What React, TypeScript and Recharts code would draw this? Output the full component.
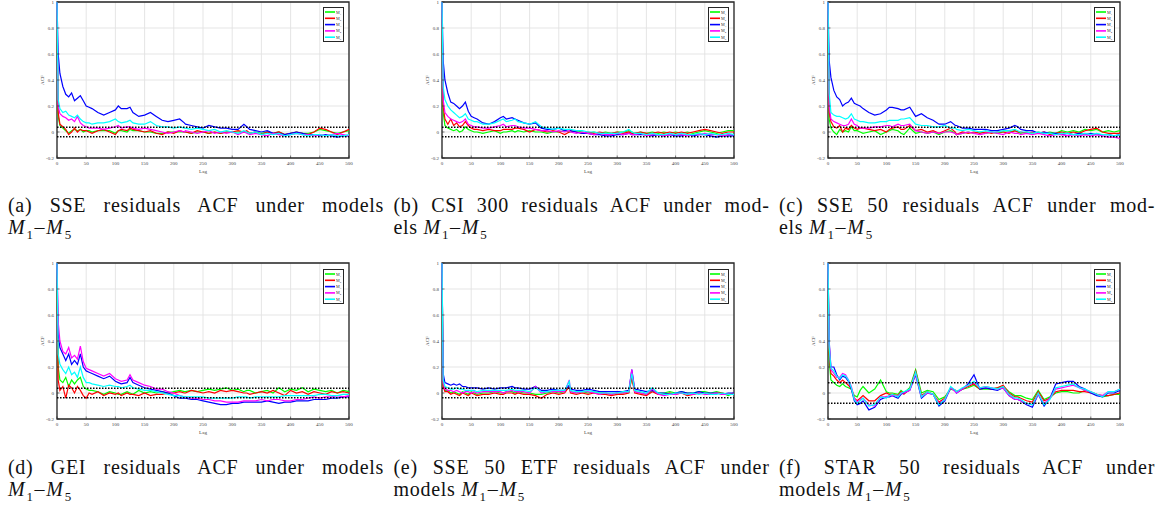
import React from 'react';
import { LineChart, Line, XAxis, YAxis, CartesianGrid, ReferenceLine, ReferenceArea } from 'recharts';

// lags (denser where the ACF moves fast, plus the spike lags)
const LAGS = [0, 2, 5,
  10, 15, 20, 25, 30, 35, 40, 45, 50,
  55, 60, 70, 80, 90, 100, 105, 110, 120, 125,
  130, 140, 150, 160, 170, 180, 190, 200, 210,
  218, 220, 230, 240, 250, 260, 270, 280, 290, 300, 310, 320,
  325, 330, 340, 350, 360, 370, 380, 390, 400, 410,
  420, 430, 440, 450, 460, 470, 480, 490, 500];

const X_TICKS = [0, 50, 100, 150, 200, 250, 300, 350, 400, 450, 500];
const Y_TICKS = [-0.2, 0, 0.2, 0.4, 0.6, 0.8, 1];

// (a) SSE
const A_M1 = [1, 0.12, 0.05,
  0.03, 0.01, -0.01, 0.01, 0.02, 0.01, 0.02, 0, 0.01,
  0.01, 0, 0.01, 0.01, 0.01, -0.01, 0.01, 0.01, 0, 0.02,
  0.01, 0.01, 0, 0, -0.01, -0.01, 0, 0, 0,
  0, 0, -0.01, 0, 0, -0.01, 0, -0.01, 0, 0, 0, 0,
  0, -0.01, 0, -0.01, 0, -0.01, 0, -0.02, -0.01, 0,
  -0.01, -0.01, 0, 0.02, 0.01, 0, -0.01, 0, 0.01];
const A_M2 = [1, 0.15, 0.06,
  0.04, 0.02, -0.02, 0, 0.03, 0, 0.02, 0.01, 0.01,
  0, -0.01, 0.01, 0.02, 0, -0.02, 0.01, 0.02, 0.01, 0.03,
  0.02, 0.01, 0, 0.01, -0.01, -0.02, 0, -0.01, 0.01,
  0, 0, -0.01, 0.01, 0, -0.01, 0, -0.01, 0, 0, 0.01, 0,
  0.01, -0.01, 0, -0.02, 0, -0.01, 0, -0.02, -0.01, 0,
  -0.01, -0.02, 0, 0.03, 0.02, 0, -0.02, 0, 0.02];
const A_M3 = [1, 0.6, 0.45,
  0.35, 0.29, 0.27, 0.3, 0.24, 0.26, 0.28, 0.24, 0.2,
  0.19, 0.18, 0.15, 0.13, 0.15, 0.17, 0.2, 0.18, 0.18, 0.19,
  0.15, 0.12, 0.13, 0.15, 0.12, 0.09, 0.08, 0.09, 0.1,
  0.07, 0.06, 0.05, 0.04, 0.03, 0.05, 0.04, 0.03, 0.03, 0.02, 0.02, 0.06,
  0.04, 0.02, 0.01, 0, 0.01, -0.01, -0.01, -0.02, -0.01, 0,
  -0.01, -0.02, -0.02, -0.03, -0.02, -0.03, -0.04, -0.03, -0.03];
const A_M4 = [1, 0.2, 0.14,
  0.12, 0.11, 0.09, 0.1, 0.08, 0.12, 0.07, 0.05, 0.04,
  0.03, 0.03, 0.03, 0.02, 0.03, 0.04, 0.05, 0.03, 0.04, 0.04,
  0.03, 0.02, 0.03, 0.02, 0.01, 0, -0.01, 0, 0.01,
  0, 0.01, 0, -0.01, 0, 0.01, -0.01, 0, -0.01, 0, -0.02, 0,
  -0.01, -0.02, -0.01, -0.02, -0.03, -0.01, -0.02, -0.03, -0.02, -0.01,
  -0.02, -0.02, -0.03, -0.02, -0.03, -0.02, -0.01, -0.02, -0.03];
const A_M5 = [1, 0.25, 0.18,
  0.15, 0.16, 0.13, 0.12, 0.11, 0.13, 0.1, 0.08, 0.07,
  0.07, 0.06, 0.07, 0.07, 0.08, 0.1, 0.08, 0.07, 0.08, 0.09,
  0.07, 0.06, 0.06, 0.08, 0.05, 0.04, 0.04, 0.03, 0.04,
  0.03, 0.03, 0.02, 0.03, 0.02, 0.01, 0.02, 0, 0.01, 0, -0.01, 0.01,
  0, -0.01, 0, -0.02, -0.01, -0.02, -0.01, -0.03, -0.02, -0.01,
  -0.02, -0.03, -0.02, -0.02, -0.03, -0.02, -0.03, -0.03, -0.02];

// (b) CSI 300
const B_M1 = [1, 0.15, 0.05,
  0.03, 0.02, 0.01, 0.02, 0, 0.01, 0.04, 0.02, 0.01,
  0, 0, -0.01, 0, 0.01, -0.01, 0, 0, 0.01, 0,
  0.01, 0, 0.01, 0, 0, -0.01, 0, 0, 0.01,
  0, 0, 0.01, 0, -0.01, 0, -0.01, 0, -0.01, 0, 0, 0.01,
  0, -0.01, 0, -0.01, 0, -0.01, 0, -0.01, 0, -0.01,
  0, -0.01, 0, 0.01, 0, -0.01, 0, 0.01, 0.01];
const B_M2 = [1, 0.2, 0.1,
  0.06, 0.1, 0.05, 0.07, 0.04, 0.05, 0.08, 0.05, 0.03,
  0.02, 0.02, 0.01, 0.02, 0.01, 0.01, 0.02, 0.02, 0.02, 0.03,
  0.03, 0.02, 0, 0.02, 0.01, 0, 0.01, 0, -0.02,
  0, 0.01, 0, -0.01, 0, -0.01, 0, -0.01, -0.01, 0, -0.01, 0,
  -0.01, -0.01, 0, -0.01, -0.01, 0, -0.01, 0, -0.01, 0,
  -0.01, 0, 0.01, 0.02, 0.01, 0, -0.01, 0, 0];
const B_M3 = [1, 0.55, 0.4,
  0.3, 0.23, 0.22, 0.2, 0.18, 0.2, 0.23, 0.16, 0.12,
  0.11, 0.1, 0.07, 0.06, 0.08, 0.11, 0.12, 0.1, 0.11, 0.1,
  0.09, 0.07, 0.06, 0.07, 0.03, 0.02, 0.02, 0.03, 0.01,
  0.02, 0.01, 0, -0.01, -0.01, -0.02, -0.02, -0.03, -0.03, -0.02, -0.02, -0.01,
  -0.02, -0.02, -0.02, -0.02, -0.03, -0.02, -0.03, -0.02, -0.03, -0.03,
  -0.02, -0.03, -0.02, -0.02, -0.03, -0.04, -0.03, -0.03, -0.03];
const B_M4 = [1, 0.25, 0.15,
  0.12, 0.1, 0.09, 0.08, 0.07, 0.08, 0.1, 0.06, 0.05,
  0.04, 0.04, 0.03, 0.03, 0.04, 0.05, 0.06, 0.04, 0.05, 0.05,
  0.04, 0.03, 0.03, 0.02, 0.01, 0.01, 0, 0.01, 0,
  0.01, 0, -0.01, 0, -0.01, -0.02, -0.01, -0.02, -0.02, -0.01, -0.02, -0.01,
  -0.02, -0.02, -0.01, -0.03, -0.02, -0.02, -0.03, -0.02, -0.02, -0.02,
  -0.03, -0.02, -0.02, -0.01, -0.02, -0.02, -0.03, -0.02, -0.02];
const B_M5 = [1, 0.35, 0.25,
  0.2, 0.17, 0.15, 0.13, 0.11, 0.12, 0.14, 0.1, 0.09,
  0.08, 0.08, 0.06, 0.06, 0.07, 0.09, 0.1, 0.08, 0.09, 0.1,
  0.08, 0.07, 0.06, 0.08, 0.04, 0.03, 0.02, 0.03, 0.02,
  0.02, 0.02, 0.01, 0.01, 0, 0, -0.01, -0.01, -0.01, -0.01, 0, 0.02,
  0, -0.01, -0.01, -0.02, -0.01, -0.02, -0.02, -0.01, -0.02, -0.01,
  -0.02, -0.02, -0.01, -0.02, -0.01, -0.02, -0.02, -0.01, -0.02];

// (c) SSE 50
const C_M1 = [1, 0.1, 0.03,
  0, -0.02, 0.02, 0, 0.01, 0, 0.04, 0.01, 0.01,
  0, -0.01, 0, 0.01, -0.02, 0, 0.01, 0.02, 0.01, -0.01,
  -0.02, 0.03, -0.01, 0, -0.01, 0, -0.02, 0, 0.01,
  -0.01, -0.02, -0.01, 0, -0.01, 0, -0.01, 0, -0.01, 0, 0, 0.01,
  0, -0.01, 0, -0.01, 0, -0.01, 0, -0.01, 0.01, 0,
  0.01, 0, 0.02, 0.01, 0.02, 0, 0.01, 0, 0.01];
const C_M2 = [1, 0.15, 0.08,
  0.04, 0.03, 0.05, 0, 0.03, 0.02, 0.05, 0.03, 0.02,
  0.03, 0.03, 0.02, 0.01, 0.02, 0, 0.02, 0.03, 0.04, 0.02,
  0.02, 0.05, 0.01, 0.02, 0, 0.01, -0.01, 0.01, 0.03,
  0, -0.02, 0, -0.01, 0, -0.01, 0, -0.01, 0, 0, -0.01, 0.01,
  0, 0, -0.01, 0, -0.01, 0, -0.02, -0.01, 0, -0.01,
  0, -0.01, 0.01, 0.02, 0.03, 0, -0.01, -0.01, -0.01];
const C_M3 = [1, 0.55, 0.42,
  0.32, 0.27, 0.25, 0.2, 0.22, 0.23, 0.26, 0.22, 0.21,
  0.2, 0.18, 0.15, 0.13, 0.14, 0.17, 0.19, 0.19, 0.18, 0.17,
  0.17, 0.19, 0.12, 0.14, 0.11, 0.09, 0.06, 0.06, 0.08,
  0.05, 0.05, 0.03, 0.03, 0.02, 0.02, 0.02, 0.01, 0.01, 0.02, 0.03, 0.05,
  0.04, 0.02, 0.01, 0.01, -0.01, 0, -0.01, -0.01, -0.02, -0.01,
  -0.02, -0.01, -0.02, -0.01, -0.02, -0.02, -0.02, -0.03, -0.02];
const C_M4 = [1, 0.2, 0.1,
  0.08, 0.07, 0.06, 0.05, 0.05, 0.06, 0.1, 0.06, 0.05,
  0.03, 0.03, 0.03, 0.04, 0.04, 0.05, 0.05, 0.04, 0.06, 0.05,
  0.05, 0.06, 0.01, 0, -0.01, 0, -0.01, 0, 0,
  -0.01, -0.02, -0.01, 0, -0.01, -0.02, -0.01, 0, -0.01, -0.02, 0, -0.01,
  -0.01, -0.02, -0.01, -0.02, -0.01, -0.02, -0.03, -0.02, -0.02, -0.03,
  -0.02, -0.03, -0.02, -0.03, -0.02, -0.03, -0.04, -0.04, -0.05];
const C_M5 = [1, 0.3, 0.15,
  0.13, 0.12, 0.12, 0.11, 0.1, 0.11, 0.14, 0.1, 0.09,
  0.08, 0.08, 0.07, 0.07, 0.08, 0.08, 0.09, 0.09, 0.09, 0.1,
  0.1, 0.11, 0.06, 0.05, 0.05, 0.04, 0.04, 0.05, 0.03,
  0.03, 0.02, 0.01, 0.02, 0.01, 0, 0.01, 0, 0, 0.01, 0.01, 0.02,
  0.01, 0, 0, -0.01, 0, -0.01, -0.01, -0.02, -0.01, -0.01,
  -0.02, -0.02, -0.01, -0.02, -0.01, -0.02, -0.02, -0.03, -0.02];

// (d) GEI
const D_M1 = [1, 0.2, 0.1,
  0.08, 0.12, 0.05, 0.1, 0.07, 0.1, 0.12, 0.05, 0.03,
  0.02, 0.02, 0.01, -0.01, 0.01, 0, -0.01, -0.01, 0.01, 0,
  -0.01, 0.02, 0, 0.01, 0, 0.01, 0, 0.01, 0.02,
  0.01, 0.01, 0.02, 0.01, 0.02, 0.03, 0.02, 0.03, 0.04, 0.02, 0.03, 0.01,
  0.02, 0.02, 0, 0.01, 0.02, 0, 0.04, 0.01, 0.03, 0.02,
  0.04, 0.01, 0.03, 0.02, 0.01, 0.02, 0, 0.02, 0.01];
const D_M2 = [1, 0.1, 0.02,
  0.05, -0.04, 0.06, 0.04, 0, 0.05, 0.02, -0.02, -0.04,
  0, -0.01, 0.01, -0.02, 0, -0.01, 0, -0.02, 0, -0.01,
  -0.01, -0.02, 0, -0.02, -0.01, -0.01, 0, 0, 0.01,
  0, 0, 0.02, 0.01, 0, 0.01, 0, 0.02, 0.01, 0.02, 0.01, 0,
  0, -0.01, 0, 0.01, 0, 0.02, 0, -0.02, 0.02, 0,
  0.01, -0.01, 0.01, 0, -0.01, 0.01, 0, 0.01, 0];
const D_M3 = [1, 0.45, 0.35,
  0.3, 0.25, 0.3, 0.22, 0.25, 0.22, 0.3, 0.2, 0.17,
  0.16, 0.15, 0.13, 0.11, 0.13, 0.09, 0.08, 0.07, 0.08, 0.12,
  0.08, 0.06, 0.04, 0.03, 0.02, 0.01, 0, -0.02, -0.04,
  -0.04, -0.04, -0.05, -0.05, -0.06, -0.07, -0.08, -0.09, -0.09, -0.08, -0.08, -0.07,
  -0.07, -0.07, -0.07, -0.07, -0.06, -0.07, -0.08, -0.07, -0.07, -0.06,
  -0.06, -0.06, -0.05, -0.05, -0.05, -0.04, -0.04, -0.03, -0.03];
const D_M4 = [1, 0.55, 0.4,
  0.32, 0.3, 0.35, 0.27, 0.29, 0.26, 0.36, 0.24, 0.19,
  0.18, 0.17, 0.15, 0.13, 0.15, 0.11, 0.1, 0.09, 0.1, 0.14,
  0.1, 0.08, 0.06, 0.05, 0.03, 0.03, 0.01, 0, -0.02,
  -0.03, -0.03, -0.04, -0.04, -0.05, -0.05, -0.06, -0.06, -0.07, -0.07, -0.07, -0.06,
  -0.06, -0.06, -0.06, -0.05, -0.06, -0.05, -0.05, -0.06, -0.06, -0.05,
  -0.05, -0.04, -0.03, -0.04, -0.03, -0.03, -0.02, -0.03, -0.02];
const D_M5 = [1, 0.3, 0.22,
  0.18, 0.15, 0.2, 0.14, 0.16, 0.12, 0.2, 0.12, 0.08,
  0.08, 0.07, 0.06, 0.05, 0.06, 0.05, 0.05, 0.04, 0.05, 0.06,
  0.04, 0.03, 0.02, 0.02, 0.01, 0, -0.01, -0.02, -0.02,
  -0.03, -0.03, -0.03, -0.03, -0.03, -0.04, -0.04, -0.04, -0.04, -0.04, -0.03, -0.03,
  -0.03, -0.04, -0.03, -0.03, -0.03, -0.03, -0.03, -0.02, -0.02, -0.02,
  -0.02, -0.02, -0.02, -0.01, -0.01, -0.02, -0.02, -0.01, -0.01];

// (e) SSE 50 ETF
const E_M1 = [1, 0.06, 0.02,
  0.02, 0, 0.01, 0, -0.01, 0.01, 0, -0.01, 0.01,
  0, -0.01, 0, 0, 0.01, 0, 0, 0.01, 0.01, 0,
  0.01, 0, 0, -0.01, -0.01, 0, 0.01, 0, 0.01,
  0.05, 0.01, 0, 0.01, 0, 0.01, 0, 0, -0.01, 0, 0, 0.01,
  0.12, 0.01, 0, -0.01, 0.02, 0, 0, 0.01, 0, 0.01,
  0, 0, 0.01, 0.01, 0, 0.01, 0, -0.02, 0];
const E_M2 = [1, 0.05, 0.01,
  0.01, -0.01, 0, -0.01, -0.02, 0, -0.01, -0.02, 0,
  -0.01, -0.02, -0.01, -0.01, 0, -0.01, -0.01, 0, 0, -0.01,
  0, -0.01, -0.01, -0.02, -0.04, -0.01, 0, -0.01, 0,
  0.05, 0, -0.01, 0, -0.01, 0, -0.01, -0.01, -0.02, -0.01, -0.01, 0,
  0.12, 0, -0.01, -0.02, 0.01, -0.01, -0.01, 0, -0.01, 0,
  -0.02, -0.01, 0, 0, -0.01, 0, 0, -0.01, 0];
const E_M3 = [1, 0.15, 0.08,
  0.07, 0.06, 0.07, 0.06, 0.07, 0.05, 0.05, 0.04, 0.04,
  0.04, 0.04, 0.03, 0.04, 0.03, 0.04, 0.04, 0.04, 0.05, 0.04,
  0.04, 0.03, 0.03, 0.05, 0.02, 0.02, 0.03, 0.02, 0.02,
  0.06, 0.03, 0.02, 0.02, 0.03, 0.02, 0.01, 0.01, 0.01, 0.01, 0.01, 0.02,
  0.18, 0.03, 0.02, 0.01, 0.02, 0, 0, -0.01, 0, 0.01,
  0, 0, 0.01, 0, 0, 0, -0.01, 0, 0];
const E_M4 = [1, 0.08, 0.03,
  0.02, 0.02, 0.01, 0.02, 0.01, 0, 0.01, 0.01, 0,
  0.01, 0, 0.01, 0.01, 0.01, 0.01, 0, 0.01, 0.02, 0.01,
  0.01, 0.01, 0, 0.05, 0, 0.01, 0.01, 0.01, 0.01,
  0.1, 0.01, 0, 0.01, 0.01, 0, -0.01, 0, -0.01, 0, 0, 0.01,
  0.18, 0.01, 0, -0.01, 0.03, -0.01, -0.02, -0.01, -0.01, 0,
  -0.01, -0.01, 0, -0.01, -0.01, 0, -0.01, -0.01, -0.01];
const E_M5 = [1, 0.1, 0.05,
  0.04, 0.03, 0.03, 0.04, 0.03, 0.03, 0.02, 0.02, 0.02,
  0.02, 0.01, 0.02, 0.02, 0.02, 0.02, 0.02, 0.02, 0.03, 0.02,
  0.02, 0.02, 0.01, 0.04, 0.01, 0.01, 0.02, 0.02, 0.02,
  0.09, 0.02, 0.01, 0.01, 0.02, 0.01, 0, 0, 0, 0, 0.01, 0.01,
  0.15, 0.02, 0.01, 0, 0.04, 0, -0.01, -0.01, 0, 0,
  -0.01, 0, -0.01, 0, -0.01, -0.01, 0, -0.01, -0.01];

// (f) STAR 50
const F_M1 = [1, 0.25, 0.1,
  0.08, 0.06, 0.05, 0.07, 0.05, 0.04, 0.03, -0.02, -0.03,
  0.02, 0.05, 0, 0.03, 0.1, 0.01, 0, 0, -0.01, 0.02,
  0, 0.04, 0.18, 0, 0.02, 0.01, -0.05, -0.03, 0.03,
  0.02, 0.01, 0.03, 0.04, 0.06, 0.03, 0.03, 0.03, 0.04, 0.05, 0.01, -0.02,
  -0.02, -0.02, -0.04, -0.05, 0.02, -0.05, -0.03, 0, 0.01, 0.01,
  0, 0, 0.02, 0.01, -0.01, -0.03, -0.02, -0.01, -0.01];
const F_M2 = [1, 0.3, 0.15,
  0.13, 0.1, 0.08, 0.1, 0.08, 0.06, 0.03, -0.04, -0.06,
  -0.04, -0.02, -0.06, -0.06, -0.02, 0, -0.01, -0.01, -0.02, 0.01,
  -0.01, 0.03, 0.17, -0.02, 0.01, -0.01, -0.07, -0.04, 0.04,
  0.02, 0.01, 0.03, 0.05, 0.07, 0.03, 0.04, 0.03, 0.04, 0.06, 0, -0.03,
  -0.03, -0.04, -0.06, -0.07, 0.01, -0.06, -0.04, 0.01, 0.02, 0.02,
  0.02, 0.01, 0.01, 0, -0.01, -0.02, -0.02, -0.01, 0];
const F_M3 = [1, 0.4, 0.2,
  0.2, 0.14, 0.1, 0.13, 0.12, 0.09, 0.03, -0.06, -0.09,
  -0.08, -0.06, -0.13, -0.11, -0.05, -0.03, -0.03, -0.02, -0.04, -0.01,
  0, 0.02, 0.14, -0.04, 0, -0.01, -0.1, -0.06, 0.04,
  0.02, 0, 0.03, 0.07, 0.14, 0.03, 0.04, 0.03, 0.02, 0.04, -0.02, -0.05,
  -0.05, -0.06, -0.09, -0.11, -0.01, -0.1, -0.04, 0.07, 0.08, 0.09,
  0.09, 0.05, 0.03, 0, -0.02, -0.03, 0, 0, 0.02];
const F_M4 = [1, 0.38, 0.18,
  0.15, 0.12, 0.12, 0.15, 0.14, 0.1, 0.05, -0.04, -0.07,
  -0.05, -0.04, -0.09, -0.1, -0.03, -0.03, -0.02, -0.02, -0.02, 0,
  0, 0.02, 0.15, -0.03, 0, -0.01, -0.08, -0.05, 0.04,
  0.01, 0, 0.03, 0.06, 0.08, 0.04, 0.05, 0.04, 0.03, 0.04, -0.02, -0.05,
  -0.05, -0.06, -0.08, -0.09, -0.01, -0.08, -0.04, 0.03, 0.04, 0.05,
  0.06, 0.04, 0.02, 0.01, -0.01, -0.02, 0.01, 0.01, 0.03];
const F_M5 = [1, 0.35, 0.19,
  0.17, 0.13, 0.11, 0.14, 0.13, 0.1, 0.04, -0.05, -0.08,
  -0.06, -0.04, -0.1, -0.09, -0.03, -0.04, -0.02, -0.01, -0.03, 0,
  0.01, 0.03, 0.16, -0.03, 0.01, -0.01, -0.09, -0.05, 0.05,
  0.02, 0.01, 0.04, 0.06, 0.09, 0.04, 0.05, 0.04, 0.03, 0.05, -0.01, -0.04,
  -0.04, -0.05, -0.08, -0.09, 0, -0.09, -0.05, 0.04, 0.05, 0.06,
  0.07, 0.04, 0.03, 0.01, -0.01, -0.03, 0.01, 0.01, 0.03];

const SERIES = [
  { key: 'm1', sub: '1', color: '#00ff00' },
  { key: 'm2', sub: '2', color: '#ff0000' },
  { key: 'm3', sub: '3', color: '#0000ff' },
  { key: 'm4', sub: '4', color: '#ff00ff' },
  { key: 'm5', sub: '5', color: '#00ffff' },
];

const PANELS = [
  { id: 'a', values: [A_M1, A_M2, A_M3, A_M4, A_M5], band: 0.036, col: 0, row: 0, line1: '(a) SSE residuals ACF under models', lead: '' },
  { id: 'b', values: [B_M1, B_M2, B_M3, B_M4, B_M5], band: 0.036, col: 1, row: 0, line1: '(b) CSI 300 residuals ACF under mod-', lead: 'els ' },
  { id: 'c', values: [C_M1, C_M2, C_M3, C_M4, C_M5], band: 0.036, col: 2, row: 0, line1: '(c) SSE 50 residuals ACF under mod-', lead: 'els ' },
  { id: 'd', values: [D_M1, D_M2, D_M3, D_M4, D_M5], band: 0.036, col: 0, row: 1, line1: '(d) GEI residuals ACF under models', lead: '' },
  { id: 'e', values: [E_M1, E_M2, E_M3, E_M4, E_M5], band: 0.036, col: 1, row: 1, line1: '(e) SSE 50 ETF residuals ACF under', lead: 'models ' },
  { id: 'f', values: [F_M1, F_M2, F_M3, F_M4, F_M5], band: 0.078, col: 2, row: 1, line1: '(f) STAR 50 residuals ACF under', lead: 'models ' },
];

// layout
const PLOT_LEFT = [57, 442.3, 828.3];
const PLOT_TOP = [1.7, 263.3];
const CAPTION_LEFT = [8, 393.5, 779];
const CAPTION_TOP = [194, 456];
const PLOT_W = 292;
const PLOT_H = 156;
const AXIS_W = 30;
const XAXIS_H = 24;
const PAD_T = 4;
const PAD_R = 6;

const tickStyle = { fontSize: 5, fill: '#444', fontFamily: 'Liberation Serif, serif' };

const Legend5 = () => (
  <svg
    width={21}
    height={35}
    style={{ position: 'absolute', right: PAD_R + 5, top: PAD_T + 5.5, overflow: 'visible' }}
  >
    <rect x={0.5} y={0.5} width={20} height={34} fill="#fff" stroke="#262626" strokeWidth={1} />
    {SERIES.map((s, i) => {
      const y = 5 + i * 6.3;
      return (
        <g key={s.key}>
          <line x1={2} x2={12} y1={y} y2={y} stroke={s.color} strokeWidth={1.6} />
          <text x={13} y={y + 1.5} fontSize={4.2} fill="#333" fontFamily="Liberation Serif, serif">
            M
            <tspan fontSize={2.8} dy={1}>{s.sub}</tspan>
          </text>
        </g>
      );
    })}
  </svg>
);

const Panel = ({ panel }: { panel: (typeof PANELS)[number] }) => {
  const rows = LAGS.map((lag, i) => {
    const row: Record<string, number> = { lag };
    SERIES.forEach((s, k) => {
      row[s.key] = panel.values[k][i];
    });
    return row;
  });
  const left = PLOT_LEFT[panel.col] - AXIS_W;
  const top = PLOT_TOP[panel.row] - PAD_T;
  const width = AXIS_W + PLOT_W + PAD_R;
  const height = PAD_T + PLOT_H + XAXIS_H;

  return (
    <div style={{ position: 'absolute', left, top, width, height }}>
      <LineChart width={width} height={height} data={rows} margin={{ top: PAD_T, right: PAD_R, left: 0, bottom: 0 }}>
        <CartesianGrid stroke="#e2e2e2" strokeWidth={0.9} />
        <XAxis
          dataKey="lag"
          type="number"
          domain={[0, 500]}
          ticks={X_TICKS}
          interval={0}
          height={XAXIS_H}
          axisLine={false}
          tickSize={-2.5}
          tickMargin={6}
          tickLine={{ stroke: '#262626', strokeWidth: 0.6 }}
          tick={tickStyle}
          label={{ value: 'Lag', position: 'insideBottom', offset: 9, style: tickStyle, fontSize: 5.5 }}
        />
        <YAxis
          type="number"
          domain={[-0.2, 1]}
          ticks={Y_TICKS}
          interval={0}
          width={AXIS_W}
          axisLine={false}
          tickSize={-2.5}
          tickMargin={5.5}
          tickLine={{ stroke: '#262626', strokeWidth: 0.6 }}
          tick={tickStyle}
          tickFormatter={(v: number) => String(v)}
          label={{ value: 'ACF', angle: -90, position: 'insideLeft', offset: 15, style: { ...tickStyle, textAnchor: 'middle' } }}
        />
        {SERIES.map((s) => (
          <Line
            key={s.key}
            type="linear"
            dataKey={s.key}
            stroke={s.color}
            strokeWidth={1.2}
            dot={false}
            isAnimationActive={false}
          />
        ))}
        <ReferenceLine y={panel.band} stroke="#000" strokeWidth={1.5} strokeDasharray="1.5 1.5" />
        <ReferenceLine y={-panel.band} stroke="#000" strokeWidth={1.5} strokeDasharray="1.5 1.5" />
        <ReferenceArea x1={0} x2={500} y1={-0.2} y2={1} fill="none" stroke="#262626" strokeWidth={1.3} ifOverflow="visible" />
      </LineChart>
      <Legend5 />
    </div>
  );
};

const subStyle = { fontSize: 13, verticalAlign: 'sub', lineHeight: 0, marginLeft: 1 };

const Caption = ({ panel }: { panel: (typeof PANELS)[number] }) => (
  <div
    style={{
      position: 'absolute',
      left: CAPTION_LEFT[panel.col],
      top: CAPTION_TOP[panel.row],
      width: 376,
      fontFamily: 'Liberation Serif, serif',
      fontSize: 20,
      letterSpacing: 0.7,
      lineHeight: '22px',
      color: '#111',
    }}
  >
    <div style={{ textAlign: 'justify', textAlignLast: 'justify', whiteSpace: 'nowrap' as const, height: 22 }}>
      {panel.line1}
    </div>
    <div style={{ height: 22, whiteSpace: 'nowrap' as const }}>
      {panel.lead}
      <i>M</i>
      <span style={subStyle}>1</span>
      <span style={{ margin: '0 1px' }}>–</span>
      <i>M</i>
      <span style={subStyle}>5</span>
    </div>
  </div>
);

export default function App() {
  return (
    <div style={{ position: 'absolute', left: 0, top: 0, width: 1163, height: 510, background: '#fff', overflow: 'hidden' }}>
      {PANELS.map((p) => (
        <Panel key={p.id} panel={p} />
      ))}
      {PANELS.map((p) => (
        <Caption key={p.id} panel={p} />
      ))}
    </div>
  );
}
